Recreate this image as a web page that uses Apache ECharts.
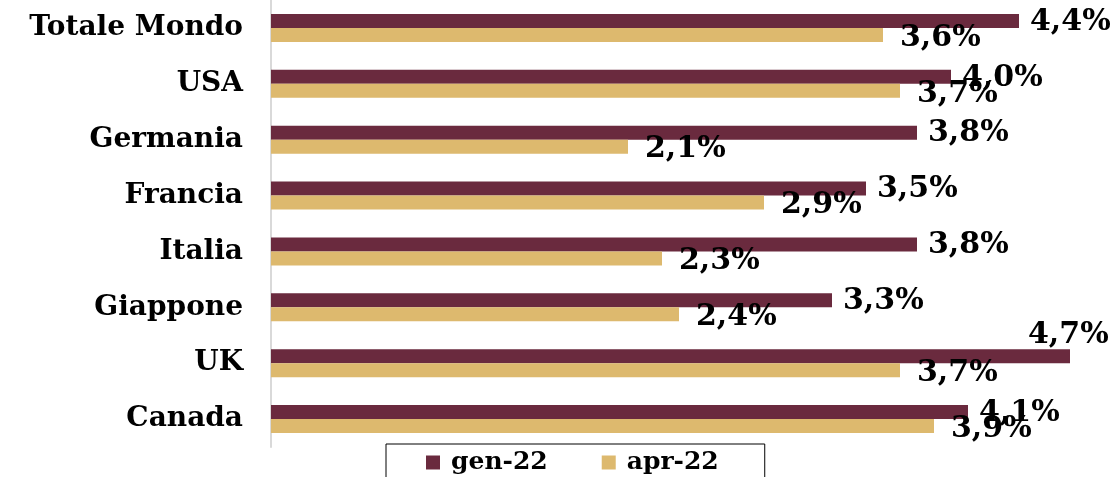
<!DOCTYPE html>
<html>
<head>
<meta charset="utf-8">
<script src="https://cdn.jsdelivr.net/npm/echarts@6/dist/echarts.min.js"></script>
<style>
  html, body { margin: 0; padding: 0; background: #fff; }
  #main { width: 1117px; height: 477px; }
</style>
</head>
<body>
<div id="main"></div>
<script>
// paesi, dall'alto verso il basso
var categories = ['Totale Mondo', 'USA', 'Germania', 'Francia', 'Italia', 'Giappone', 'UK', 'Canada'];
var gen22 = [4.4, 4.0, 3.8, 3.5, 3.8, 3.3, 4.7, 4.1];
var apr22 = [3.6, 3.7, 2.1, 2.9, 2.3, 2.4, 3.7, 3.9];

var FONT = '"DejaVu Serif", serif';

function fmt(p) {
  return p.value.toFixed(1).replace('.', ',') + '%';
}

// l'etichetta della barra piu' lunga non entra a destra: va sopra
var genData = gen22.map(function (v) {
  if (v >= 4.6) {
    return { value: v, label: { offset: [-53, -21] } };
  }
  return v;
});

var chart = echarts.init(document.getElementById('main'));

var option = {
  animation: false,
  grid: {
    left: 271,
    top: -1,
    width: 816,
    height: 448
  },
  legend: {
    data: ['gen-22', 'apr-22'],
    left: 386,
    top: 444,
    icon: 'rect',
    itemWidth: 14,
    itemHeight: 14,
    itemGap: 54,
    borderColor: '#000',
    borderWidth: 1,
    padding: [6, 46, 6, 40],
    textStyle: {
      fontFamily: FONT,
      fontWeight: 'bold',
      fontSize: 25,
      color: '#000',
      padding: [0, 0, 0, 6]
    }
  },
  xAxis: {
    type: 'value',
    min: 0,
    max: 4.8,
    show: false
  },
  yAxis: {
    type: 'category',
    inverse: true,
    data: categories,
    axisLine: { lineStyle: { color: '#D9D9D9', width: 2 } },
    axisTick: { show: false },
    axisLabel: {
      margin: 28,
      fontFamily: FONT,
      fontWeight: 'bold',
      fontSize: 28,
      color: '#000'
    }
  },
  series: [
    {
      name: 'gen-22',
      type: 'bar',
      data: genData,
      barWidth: 14,
      barGap: '0%',
      itemStyle: { color: '#6A2A3E' },
      label: {
        show: true,
        position: 'right',
        distance: 11,
        offset: [0, 1],
        formatter: fmt,
        fontFamily: FONT,
        fontWeight: 'bold',
        fontSize: 30,
        color: '#000'
      }
    },
    {
      name: 'apr-22',
      type: 'bar',
      data: apr22,
      barWidth: 14,
      itemStyle: { color: '#DDB96E' },
      label: {
        show: true,
        position: 'right',
        distance: 17,
        offset: [0, 3],
        formatter: fmt,
        fontFamily: FONT,
        fontWeight: 'bold',
        fontSize: 30,
        color: '#000'
      }
    }
  ]
};

chart.setOption(option);
</script>
</body>
</html>
